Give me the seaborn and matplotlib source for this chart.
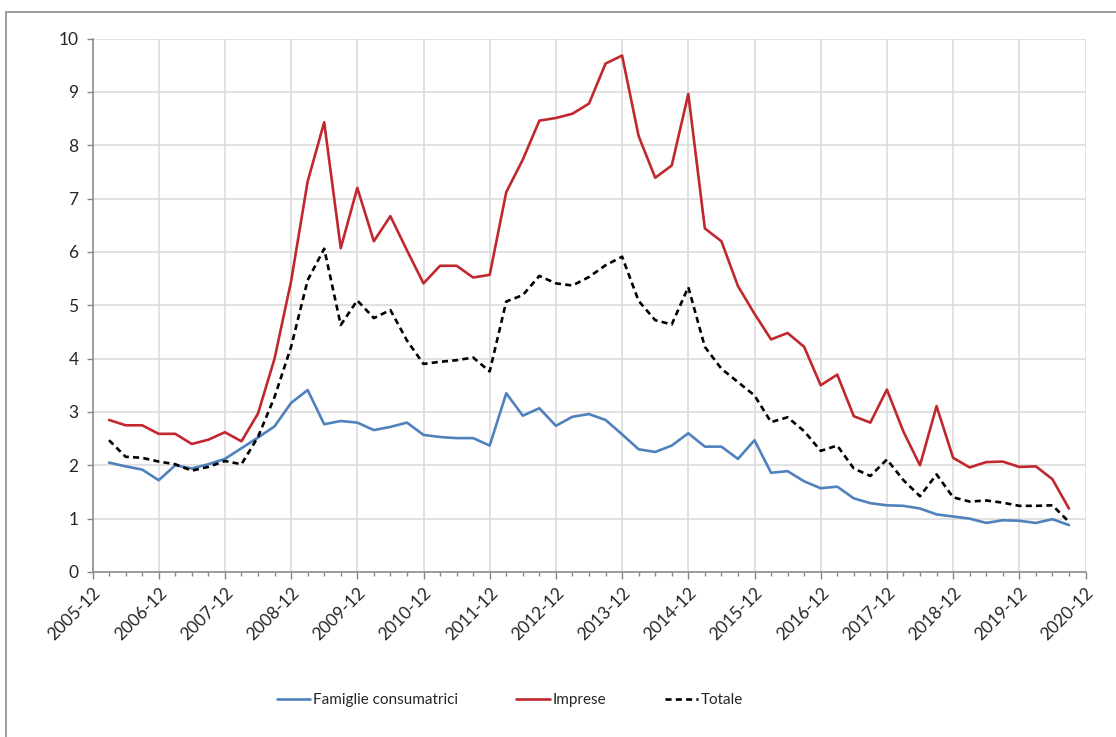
import numpy as np
import pandas as pd
import seaborn as sns
import matplotlib.pyplot as plt
from matplotlib.patches import Rectangle

# trimestri 2006-03 ... 2020-09
periodi = pd.period_range("2006Q1", "2020Q3", freq="Q").strftime("%Y-%m")

famiglie = [2.05, 1.98, 1.92, 1.72, 2.00, 1.94, 2.02, 2.12, 2.32, 2.52,
            2.73, 3.17, 3.41, 2.77, 2.83, 2.80, 2.66, 2.72, 2.80, 2.57,
            2.53, 2.51, 2.51, 2.37, 3.35, 2.93, 3.07, 2.74, 2.91, 2.96,
            2.85, 2.58, 2.30, 2.25, 2.37, 2.60, 2.35, 2.35, 2.12, 2.47,
            1.86, 1.89, 1.70, 1.57, 1.60, 1.38, 1.29, 1.25, 1.24, 1.19,
            1.08, 1.04, 1.00, 0.92, 0.97, 0.96, 0.92, 0.99, 0.88]

imprese = [2.85, 2.75, 2.75, 2.59, 2.59, 2.40, 2.48, 2.62, 2.45, 2.97,
           4.00, 5.45, 7.32, 8.43, 6.07, 7.20, 6.20, 6.67, 6.03, 5.41,
           5.74, 5.74, 5.52, 5.57, 7.12, 7.73, 8.46, 8.51, 8.59, 8.78,
           9.53, 9.68, 8.17, 7.39, 7.62, 8.96, 6.44, 6.20, 5.36, 4.84,
           4.36, 4.48, 4.22, 3.50, 3.70, 2.92, 2.80, 3.42, 2.63, 2.00,
           3.11, 2.14, 1.96, 2.06, 2.07, 1.97, 1.98, 1.74, 1.19]

totale = [2.47, 2.16, 2.14, 2.07, 2.02, 1.90, 1.97, 2.08, 2.02, 2.53,
          3.28, 4.22, 5.47, 6.06, 4.63, 5.09, 4.76, 4.91, 4.34, 3.90,
          3.94, 3.97, 4.02, 3.76, 5.07, 5.19, 5.55, 5.41, 5.37, 5.53,
          5.75, 5.91, 5.08, 4.72, 4.64, 5.34, 4.22, 3.81, 3.56, 3.31,
          2.81, 2.90, 2.64, 2.27, 2.37, 1.94, 1.80, 2.11, 1.72, 1.42,
          1.83, 1.40, 1.32, 1.34, 1.30, 1.24, 1.24, 1.25, 0.94]

etichette_x = ["2005-12", "2006-12", "2007-12", "2008-12", "2009-12", "2010-12",
               "2011-12", "2012-12", "2013-12", "2014-12", "2015-12", "2016-12",
               "2017-12", "2018-12", "2019-12", "2020-12"]

serie = ["Famiglie consumatrici", "Imprese", "Totale"]
colori = {"Famiglie consumatrici": "#4F81BD", "Imprese": "#C0282E", "Totale": "#000000"}

df = pd.DataFrame({"periodo": periodi, "pos": np.arange(1, len(periodi) + 1),
                   "Famiglie consumatrici": famiglie, "Imprese": imprese, "Totale": totale})
df_long = df.melt(id_vars=["periodo", "pos"], value_vars=serie, var_name="serie", value_name="valore")

sns.set_theme(style="white")
plt.rcParams["font.family"] = ["Lato", "DejaVu Sans"]

fig = plt.figure(figsize=(11.16, 7.37), dpi=100)
ax = fig.add_axes([92.5 / 1116, 1 - 572 / 737, 993 / 1116, 533.5 / 737])

sns.lineplot(data=df_long, x="pos", y="valore", hue="serie", style="serie",
             hue_order=serie, style_order=serie, palette=colori,
             dashes={"Famiglie consumatrici": "", "Imprese": "", "Totale": (2.3, 1.6)},
             linewidth=1.9, ax=ax)

ax.set_xlim(0, 60)
ax.set_ylim(0, 10)
ax.set_yticks(range(0, 11))
ax.set_xticks(np.arange(0, 61, 4))
ax.set_xticklabels(etichette_x, rotation=45, ha="right", rotation_mode="anchor")
ax.set_xticks(np.arange(0, 61, 1), minor=True)
ax.set_xlabel("")
ax.set_ylabel("")

ax.grid(True, which="major", color="#d9d9d9", linewidth=1.1)
ax.set_axisbelow(True)
for s in ["top", "right"]:
    ax.spines[s].set_visible(False)
for s in ["left", "bottom"]:
    ax.spines[s].set_color("#868686")
    ax.spines[s].set_linewidth(1.1)

ax.tick_params(axis="x", which="major", bottom=True, length=5, width=1, color="#868686",
               labelsize=12.5, pad=4)
ax.tick_params(axis="x", which="minor", bottom=True, length=3, width=1, color="#868686")
ax.tick_params(axis="y", left=True, length=4, width=1, color="#868686", labelsize=12.5, pad=6)

sns.move_legend(ax, "center", bbox_to_anchor=((510 - 92.5) / 993, (572 - 700) / 533.5),
                ncol=3, frameon=False, title=None, fontsize=11, handlelength=2.2,
                handletextpad=0.2, columnspacing=3.8)

fig.add_artist(Rectangle((6 / 1116, -0.1), 2, 1 - 12 / 737 + 0.1, transform=fig.transFigure,
                         fill=False, edgecolor="#8c8c8c", linewidth=1.2))

fig.savefig("out.png", dpi=100)
